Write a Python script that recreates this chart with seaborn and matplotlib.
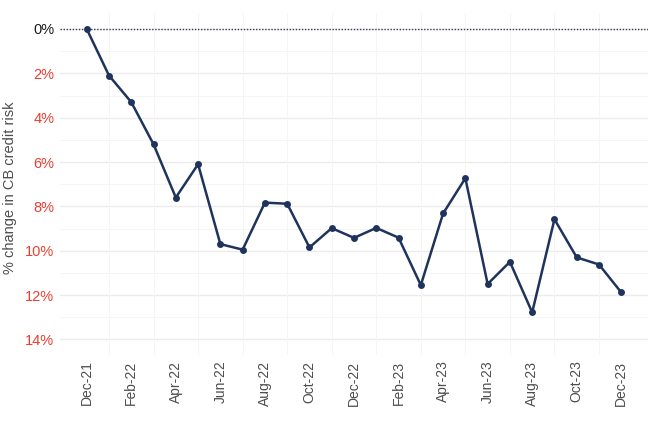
import numpy as np
import pandas as pd
import matplotlib
matplotlib.use("Agg")
import matplotlib.pyplot as plt
import seaborn as sns

# data: % change in CB credit risk, Dec-21 = 0 (values are decreases)
months = ["Dec-21", "Jan-22", "Feb-22", "Mar-22", "Apr-22", "May-22", "Jun-22",
          "Jul-22", "Aug-22", "Sep-22", "Oct-22", "Nov-22", "Dec-22", "Jan-23",
          "Feb-23", "Mar-23", "Apr-23", "May-23", "Jun-23", "Jul-23", "Aug-23",
          "Sep-23", "Oct-23", "Nov-23", "Dec-23"]
change = [0.0, -2.1, -3.3, -5.2, -7.6, -6.1, -9.7, -9.95, -7.83, -7.88, -9.85,
          -8.98, -9.42, -8.97, -9.41, -11.55, -8.32, -6.73, -11.5, -10.5, -12.78,
          -8.58, -10.3, -10.62, -11.88]
y_ticks = [0, -2, -4, -6, -8, -10, -12, -14]

df = pd.DataFrame({"month": months, "change": change})
df["pos"] = np.arange(len(df))

sns.set_theme(style="white")
plt.rcParams["font.family"] = ["Liberation Sans", "DejaVu Sans"]

fig = plt.figure(figsize=(6.55, 4.25), dpi=100)
ax = fig.add_axes([60 / 655, 1 - 355 / 425, 588 / 655, 342 / 425])

# grid lines
for t in y_ticks:
    ax.axhline(t, color="#ebebeb", lw=1.0, zorder=0)
for t in np.arange(-13, 0, 2):
    ax.axhline(t, color="#f5f5f5", lw=0.7, zorder=0)
for p in df["pos"][1::2]:
    ax.axvline(p, color="#f5f5f5", lw=0.7, zorder=0)

ax.axhline(0, color="#3a3f55", lw=1.0, ls=(0, (1, 1.2)), zorder=1)

sns.lineplot(data=df, x="pos", y="change", color="#1f345c", lw=1.8,
             marker="o", markersize=5, markeredgewidth=0, ax=ax, zorder=3)

ax.set_xlim(-1.2, len(df) - 1 + 1.2)
ax.set_ylim(-14.7, 0.72)
ax.set_xticks(df["pos"][::2])
ax.set_xticklabels(df["month"][::2], rotation=90, fontsize=10, color="#4d4d4d")
ax.set_yticks(y_ticks)
ax.set_yticklabels([f"{abs(t)}%" for t in y_ticks], fontsize=10.5)
for lab, t in zip(ax.get_yticklabels(), y_ticks):
    lab.set_color("#1a1a1a" if t == 0 else "#ec3d30")
ax.tick_params(axis="both", length=0, pad=4)
ax.set_xlabel("")
ax.set_ylabel("% change in CB credit risk", fontsize=10.5, color="#4d4d4d")
ax.yaxis.set_label_coords(-0.073, 0.488)
for s in ax.spines.values():
    s.set_visible(False)

fig.savefig("out.png", dpi=100)
